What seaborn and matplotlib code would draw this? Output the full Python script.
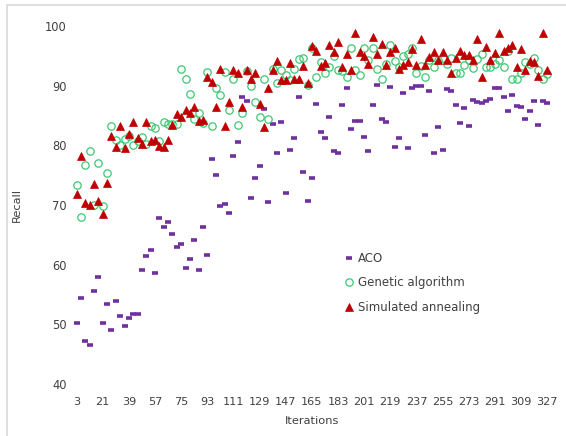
import seaborn as sns
import pandas as pd
import matplotlib.pyplot as plt
from matplotlib.patches import Rectangle

# x categories: every 3rd iteration, labels every 18th
iterations = list(range(3, 330, 3))
xtick_labels = list(range(3, 330, 18))
ytick_labels = [40, 50, 60, 70, 80, 90, 100]

aco = [50.2, 54.4, 47.2, 46.5, 55.6, 58.0, 50.3, 53.4, 49.0, 54.0,
       51.4, 49.8, 51.0, 51.7, 51.8, 59.1, 61.4, 62.5, 58.7, 67.8,
       66.3, 67.2, 65.1, 63.0, 63.5, 59.5, 61.0, 64.1, 59.2, 66.3,
       61.7, 77.7, 75.0, 69.8, 70.2, 68.6, 78.2, 80.6, 88.2, 87.5,
       71.2, 74.6, 76.6, 86.1, 70.5, 83.6, 78.8, 84.0, 72.0, 79.2,
       81.2, 88.2, 75.6, 70.7, 74.6, 86.9, 82.3, 81.3, 84.7, 79.1,
       78.8, 86.8, 89.6, 82.8, 84.1, 84.1, 81.5, 79.1, 86.8, 90.1,
       84.4, 83.9, 89.8, 79.7, 81.3, 88.8, 79.5, 89.7, 90.0, 90.0,
       81.7, 89.2, 78.8, 83.1, 79.2, 89.4, 89.2, 86.8, 83.7, 86.3,
       83.2, 87.6, 87.3, 87.2, 87.4, 87.8, 89.6, 89.7, 88.1, 85.7,
       88.4, 86.7, 86.4, 84.5, 85.8, 87.5, 83.5, 87.5, 87.2]

genetic = [73.4, 68.0, 76.7, 79.1, 70.0, 77.1, 69.8, 75.4, 83.2, 81.0,
           80.0, 81.1, 81.6, 80.0, 80.8, 81.5, 80.2, 83.2, 82.9, 80.7,
           84.0, 83.6, 83.6, 83.6, 92.9, 91.1, 88.6, 84.4, 85.4, 83.7,
           92.3, 83.2, 89.6, 88.4, 92.3, 86.0, 91.1, 83.4, 85.4, 92.5,
           89.9, 87.3, 84.7, 91.1, 84.5, 92.9, 90.4, 92.6, 91.8, 90.9,
           92.9, 94.5, 94.6, 90.1, 96.4, 91.4, 94.0, 92.2, 93.2, 95.0,
           92.7, 92.5, 91.5, 96.4, 92.7, 91.8, 96.3, 94.4, 96.3, 92.9,
           91.1, 93.6, 96.8, 94.2, 93.2, 95.0, 95.4, 96.4, 92.1, 93.3,
           91.4, 94.4, 93.2, 94.3, 94.7, 93.6, 94.7, 92.1, 92.2, 93.5,
           94.3, 93.0, 94.5, 95.3, 93.2, 93.2, 93.7, 94.3, 93.2, 95.9,
           91.2, 91.2, 92.1, 94.0, 93.7, 94.6, 92.7, 91.2, 92.0]

annealing = [71.8, 78.2, 70.4, 70.0, 73.5, 70.7, 68.5, 73.7, 81.6, 79.7,
             83.2, 79.5, 82.0, 84.0, 81.2, 80.2, 84.0, 80.7, 81.0, 79.9,
             79.8, 81.0, 83.5, 85.3, 84.7, 86.0, 85.5, 86.4, 84.1, 84.2,
             91.4, 90.7, 86.4, 92.9, 83.2, 87.3, 92.6, 92.2, 86.4, 92.6,
             91.1, 92.2, 86.9, 83.1, 89.6, 92.7, 94.2, 90.9, 90.9, 93.9,
             91.1, 91.2, 93.3, 90.5, 96.6, 95.9, 93.4, 93.9, 96.8, 95.7,
             97.4, 93.2, 95.3, 92.6, 98.9, 95.7, 95.0, 93.6, 98.1, 95.3,
             97.0, 93.5, 95.7, 96.3, 92.9, 93.5, 94.0, 96.1, 93.5, 97.9,
             93.5, 94.9, 95.7, 94.3, 95.7, 94.3, 92.2, 94.6, 95.9, 95.1,
             95.1, 94.4, 97.9, 91.4, 96.5, 94.4, 95.5, 98.8, 95.9, 96.3,
             96.8, 93.2, 96.1, 92.6, 94.2, 94.0, 91.6, 98.9, 92.6]

series_names = ["ACO", "Genetic algorithm", "Simulated annealing"]


def main():
    sns.set_theme(style="white")
    plt.rcParams['font.family'] = ['DejaVu Sans']

    df = pd.DataFrame({"Iterations": iterations,
                       "ACO": aco,
                       "Genetic algorithm": genetic,
                       "Simulated annealing": annealing})
    df = df.melt(id_vars="Iterations", var_name="method", value_name="Recall")

    fig = plt.figure(figsize=(5.66, 4.36), dpi=100)
    ax = fig.add_axes([0.12, 0.119, 0.862, 0.821])

    styles = {
        "ACO": dict(marker="_", markersize=5.0, markeredgewidth=2.6,
                    color="#7030A0", markeredgecolor="#7030A0"),
        "Genetic algorithm": dict(marker="o", markersize=5.3, markeredgewidth=0.9,
                                  markerfacecolor="none", markeredgecolor="#3CC872",
                                  color="#3CC872"),
        "Simulated annealing": dict(marker="^", markersize=5.4, markeredgewidth=0.5,
                                    color="#C00000", markeredgecolor="#C00000"),
    }
    for name in series_names:
        sub = df[df["method"] == name]
        sns.lineplot(data=sub, x="Iterations", y="Recall", ax=ax, label=name,
                     linestyle="", estimator=None, **styles[name])

    ax.set_xlim(-3, 333)
    ax.set_ylim(40, 100)
    ax.set_xticks(xtick_labels)
    ax.set_xticklabels([str(t) for t in xtick_labels])
    ax.set_yticks(ytick_labels)
    ax.tick_params(axis="x", length=0, pad=9, labelsize=8.1, colors="#404040")
    ax.tick_params(axis="y", length=0, pad=1, labelsize=8.3, colors="#404040")
    sns.despine(ax=ax, left=True, bottom=True)
    ax.grid(False)

    ax.set_xlabel("Iterations", fontsize=8.2, color="#404040")
    ax.set_ylabel("Recall", fontsize=8.2, color="#404040")
    ax.xaxis.set_label_coords(0.5, -0.088)
    ax.yaxis.set_label_coords(-0.094, 0.5)

    ax.legend(loc="upper left", bbox_to_anchor=(0.565, 0.37), frameon=False,
              fontsize=8.5, handlelength=0.9, handletextpad=0.3, labelspacing=1.0,
              borderpad=0, borderaxespad=0, numpoints=1, labelcolor="#404040")

    # light chart-area border (top and left edges visible)
    fig.patches.append(Rectangle((7 / 566, -0.1), 1.2, 1.1 - 5 / 436,
                                 transform=fig.transFigure, fill=False,
                                 edgecolor="#d9d9d9", linewidth=1.2))

    plt.savefig("out.png", dpi=100)


main()
